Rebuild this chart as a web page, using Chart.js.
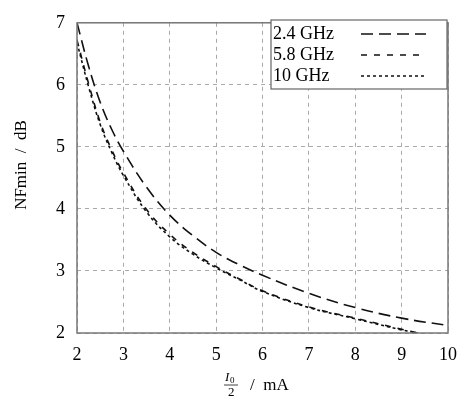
<!DOCTYPE html>
<html>
<head>
<meta charset="utf-8">
<script src="https://cdn.jsdelivr.net/npm/chart.js@4"></script>
<style>
  html, body { margin: 0; padding: 0; background: #fff; }
  #wrap { width: 468px; height: 404px; }
</style>
</head>
<body>
<div id="wrap"><canvas id="nfChart"></canvas></div>
<script>
// values
var current = [2, 2.25, 2.5, 2.75, 3, 3.5, 4, 4.5, 5, 5.5, 6, 7, 8, 9, 10];
var nf24 = [7.0, 6.3, 5.72, 5.28, 4.93, 4.35, 3.9, 3.57, 3.3, 3.1, 2.93, 2.64, 2.41, 2.24, 2.12];
var current2 = [2, 2.25, 2.5, 2.75, 3, 3.5, 4, 4.5, 5, 5.5, 6, 7, 8, 9, 9.35];
var nf58 = [6.72, 6.02, 5.4, 4.95, 4.58, 3.99, 3.59, 3.3, 3.07, 2.87, 2.68, 2.42, 2.24, 2.06, 2.0];
var nf10 = [6.68, 5.97, 5.36, 4.91, 4.54, 3.95, 3.55, 3.27, 3.05, 2.86, 2.67, 2.41, 2.23, 2.05, 2.0];
var seriesLabels = ['2.4 GHz', '5.8 GHz', '10 GHz'];
var xTicks = [2, 3, 4, 5, 6, 7, 8, 9, 10];
var yTicks = [2, 3, 4, 5, 6, 7];

var serif = '"Liberation Serif", "DejaVu Serif", serif';

function pts(xs, ys) {
    return xs.map(function (x, i) { return { x: x, y: ys[i] }; });
}

// frame, legend box and axis titles
var extras = {
    id: 'extras',
    afterDraw: function (chart) {
        var c = chart.ctx, a = chart.chartArea;
        c.save();
        c.strokeStyle = '#777';
        c.lineWidth = 1.5;
        c.setLineDash([]);
        c.strokeRect(a.left, a.top, a.right - a.left, a.bottom - a.top);

        // legend
        var lx = 271, ly = 20, lw = 176, lh = 69;
        c.fillStyle = '#fff';
        c.fillRect(lx, ly, lw, lh);
        c.strokeStyle = '#666';
        c.lineWidth = 1.2;
        c.strokeRect(lx, ly, lw, lh);
        c.font = '18px ' + serif;
        c.textBaseline = 'middle';
        chart.data.datasets.forEach(function (ds, i) {
            var yy = ly + 14 + i * 21;
            c.fillStyle = '#000';
            c.textAlign = 'left';
            c.fillText(ds.label, lx + 2, yy);
            c.strokeStyle = '#111';
            c.lineWidth = 1.5;
            c.setLineDash(ds.borderDash);
            c.beginPath();
            c.moveTo(lx + 90, yy);
            c.lineTo(lx + 155, yy);
            c.stroke();
        });
        c.setLineDash([]);

        // y title
        c.fillStyle = '#000';
        c.font = '17px ' + serif;
        c.save();
        c.translate(22, 165);
        c.rotate(-Math.PI / 2);
        c.textAlign = 'center';
        c.fillText('NFmin  /  dB', 0, 0);
        c.restore();

        // x title: I0 over 2, then / mA
        var cx = 231, cy = 385;
        c.font = 'italic 13px ' + serif;
        c.textAlign = 'left';
        c.fillText('I', cx - 6, cy - 7);
        c.font = '9px ' + serif;
        c.fillText('0', cx - 1, cy - 4);
        c.strokeStyle = '#111';
        c.lineWidth = 0.8;
        c.beginPath();
        c.moveTo(cx - 7, cy);
        c.lineTo(cx + 7, cy);
        c.stroke();
        c.font = '13px ' + serif;
        c.fillText('2', cx - 3, cy + 8);
        c.font = '17px ' + serif;
        c.fillText('/  mA', cx + 19, cy + 1);
        c.restore();
    }
};

var ctx = document.getElementById('nfChart').getContext('2d');
var nfChart = new Chart(ctx, {
    type: 'line',
    data: {
        datasets: [{
            label: seriesLabels[0],
            data: pts(current, nf24),
            borderColor: '#111',
            borderWidth: 1.6,
            borderDash: [12, 6],
            pointRadius: 0,
            tension: 0.4
        }, {
            label: seriesLabels[1],
            data: pts(current2, nf58),
            borderColor: '#111',
            borderWidth: 1.6,
            borderDash: [6, 7],
            pointRadius: 0,
            tension: 0.4
        }, {
            label: seriesLabels[2],
            data: pts(current2, nf10),
            borderColor: '#111',
            borderWidth: 1.6,
            borderDash: [3, 3],
            pointRadius: 0,
            tension: 0.4
        }]
    },
    options: {
        responsive: true,
        maintainAspectRatio: false,
        animation: false,
        layout: { padding: { left: 0, right: 19, top: 14, bottom: 0 } },
        plugins: {
            legend: { display: false },
            tooltip: { enabled: false }
        },
        scales: {
            x: {
                type: 'linear',
                min: 2,
                max: 10,
                afterBuildTicks: function (s) { s.ticks = xTicks.map(function (v) { return { value: v }; }); },
                afterFit: function (s) { s.height = 71; },
                grid: { color: '#aaa', lineWidth: 1, drawTicks: false },
                border: { display: false, dash: [4, 4] },
                ticks: { color: '#000', padding: 11, font: { family: serif, size: 18 } }
            },
            y: {
                min: 2,
                max: 7,
                afterBuildTicks: function (s) { s.ticks = yTicks.map(function (v) { return { value: v }; }); },
                afterFit: function (s) { s.width = 77; },
                grid: { color: '#aaa', lineWidth: 1, drawTicks: false },
                border: { display: false, dash: [4, 4] },
                ticks: { color: '#000', padding: 12, font: { family: serif, size: 18 } }
            }
        }
    },
    plugins: [extras]
});
</script>
</body>
</html>
